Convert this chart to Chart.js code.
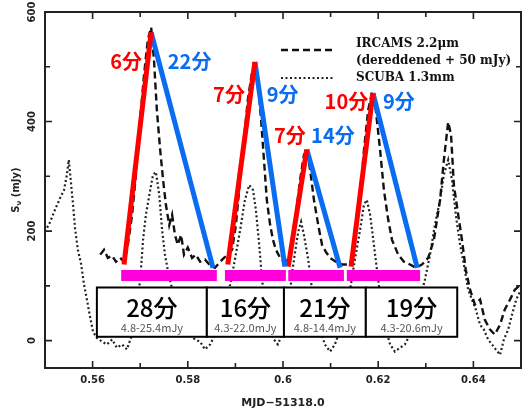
<!DOCTYPE html>
<html><head><meta charset="utf-8">
<script src="https://cdn.jsdelivr.net/npm/chart.js@4/dist/chart.umd.min.js"></script>
<style>html,body{margin:0;padding:0;background:#fff}#wrap{width:522px;height:410px}</style>
</head><body><div id="wrap"><canvas id="c" width="522" height="410"></canvas></div>
<script>
// IRCAMS 2.2um (dereddened + 50 mJy), dashed
const ircamsX = [0.5616,0.5624,0.5632,0.5641,0.5649,0.5658,0.5666,0.5674,0.5683,0.5691,
0.5700,0.5708,0.5716,0.5723,0.5729,0.5735,0.5742,0.5748,0.5754,0.5761,
0.5767,0.5773,0.5779,0.5786,0.5792,0.5800,0.5809,0.5817,0.5826,0.5836,
0.5847,0.5857,0.5868,0.5876,0.5884,0.5893,0.5901,0.5910,0.5918,0.5926,
0.5935,0.5941,0.5947,0.5954,0.5960,0.5966,0.5973,0.5979,0.5985,0.5994,
0.6002,0.6011,0.6019,0.6027,0.6036,0.6044,0.6050,0.6057,0.6065,0.6074,
0.6082,0.6090,0.6099,0.6111,0.6124,0.6137,0.6145,0.6153,0.6162,0.6170,
0.6179,0.6187,0.6195,0.6204,0.6212,0.6221,0.6229,0.6242,0.6254,0.6267,
0.6279,0.6292,0.6305,0.6317,0.6330,0.6338,0.6347,0.6353,0.6359,0.6368,
0.6376,0.6384,0.6393,0.6403,0.6414,0.6424,0.6435,0.6445,0.6456,0.6466,
0.6477,0.6487,0.6500];
const ircamsY = [157,166,151,155,144,151,144,175,230,303,
403,485,549,572,512,421,348,294,248,211,
230,193,175,193,157,170,151,157,144,148,
137,133,144,151,157,166,211,294,366,439,
490,509,476,403,330,257,211,184,166,151,
144,148,175,230,294,339,348,312,257,211,
175,162,151,144,139,139,148,193,257,348,
421,454,421,348,275,221,184,157,144,139,
133,139,151,184,257,330,399,376,284,230,
184,129,93,66,75,38,20,11,29,57,
75,93,102];
// SCUBA 1.3mm, dotted
const scubaX = [0.5500,0.5511,0.5521,0.5532,0.5540,0.5546,0.5550,0.5555,0.5559,0.5563,
0.5569,0.5576,0.5582,0.5588,0.5595,0.5601,0.5609,0.5620,0.5630,0.5641,
0.5651,0.5662,0.5672,0.5683,0.5691,0.5700,0.5706,0.5712,0.5721,0.5727,
0.5733,0.5740,0.5746,0.5752,0.5758,0.5765,0.5773,0.5784,0.5794,0.5805,
0.5815,0.5826,0.5836,0.5847,0.5857,0.5868,0.5878,0.5889,0.5899,0.5910,
0.5920,0.5929,0.5937,0.5943,0.5950,0.5956,0.5964,0.5973,0.5981,0.5989,
0.5998,0.6006,0.6015,0.6023,0.6032,0.6038,0.6044,0.6053,0.6061,0.6069,
0.6078,0.6088,0.6099,0.6109,0.6120,0.6130,0.6141,0.6151,0.6162,0.6170,
0.6176,0.6183,0.6191,0.6200,0.6208,0.6216,0.6225,0.6235,0.6246,0.6256,
0.6267,0.6277,0.6288,0.6298,0.6309,0.6319,0.6330,0.6338,0.6347,0.6355,
0.6363,0.6372,0.6380,0.6389,0.6397,0.6405,0.6414,0.6422,0.6431,0.6439,
0.6447,0.6456,0.6464,0.6473,0.6481,0.6490,0.6500];
const scubaY = [199,217,239,261,275,303,330,284,248,206,
166,139,102,75,42,16,5,-2,-7,2,
-13,-7,-16,11,57,111,184,230,275,303,
308,266,202,157,129,102,75,47,29,11,
2,-2,-16,-7,11,38,75,102,148,202,
257,284,275,239,175,111,57,20,2,-7,
11,47,93,148,199,217,193,148,93,57,
20,-7,-20,-7,20,57,93,148,202,248,
257,230,175,111,57,20,-7,-20,-13,-7,
11,38,75,111,157,211,257,303,330,294,
230,175,139,93,75,57,29,20,2,-7,
-16,-26,2,20,47,75,93];

// flare rise / decay guide lines
const riseStartX = [0.5666,0.5884,0.6011,0.6143];
const riseStartY = [139,139,135,135];
const peakX = [0.5723,0.5941,0.6050,0.6189];
const peakY = [563,509,349,452];
const decayEndX = [0.5853,0.6004,0.6120,0.6282];
const decayEndY = [133,135,133,133];
const riseLabels = ['6分','7分','7分','10分'];
const decayLabels = ['22分','9分','14分','9分'];

// flare duration bars and boxes
const barStartX = [0.5660,0.5878,0.6011,0.6134];
const barEndX = [0.5861,0.6006,0.6128,0.6288];
const barLevel = 119;
const totalLabels = ['28分','16分','21分','19分'];
const rangeLabels = ['4.8-25.4mJy','4.3-22.0mJy','4.8-14.4mJy','4.3-20.6mJy'];

// axes
const xTickValues = [0.56,0.58,0.60,0.62,0.64];
const xTickLabels = ['0.56','0.58','0.6','0.62','0.64'];
const xMinorValues = [0.57,0.59,0.61,0.63];
const yTickValues = [0,200,400,600];
const yTickLabels = ['0','200','400','600'];
const yMinorValues = [100,300,500];
const xTitle = 'MJD\u221251318.0';
const legendLabels = [['IRCAMS 2.2\u03bcm','(dereddened + 50 mJy)'],['SCUBA 1.3mm']];

// annotation placement (layout, in axis units)
const boxEdgesX = [0.5609,0.5840,0.6002,0.6174,0.6366];
const boxTopY = 97, boxBottomY = 7;
const riseLabelAnchorX = [0.5704,0.5920,0.6048,0.6179];
const decayLabelAnchorX = [0.5758,0.5966,0.6059,0.6210];
const labelAnchorY = [509,450,374,436];

const RED = '#ff0000', BLUE = '#0a6cf0', MAG = '#ff00dc';
const pts = (xs, ys) => xs.map((v,i)=>({x:v,y:ys[i]}));

const datasets = [];
for (let i=0;i<4;i++){
  datasets.push({data:[{x:riseStartX[i],y:riseStartY[i]},{x:peakX[i],y:peakY[i]}],borderColor:RED,borderWidth:5,borderCapStyle:'butt',order:1});
  datasets.push({data:[{x:peakX[i],y:peakY[i]},{x:decayEndX[i],y:decayEndY[i]}],borderColor:BLUE,borderWidth:5,borderCapStyle:'butt',order:1});
  datasets.push({data:[{x:barStartX[i],y:barLevel},{x:barEndX[i],y:barLevel}],borderColor:MAG,borderWidth:11,borderCapStyle:'butt',order:1});
}
datasets.push({label:'IRCAMS',data:pts(ircamsX,ircamsY),borderColor:'#111',borderWidth:2.4,borderDash:[7,4],order:5});
datasets.push({label:'SCUBA',data:pts(scubaX,scubaY),borderColor:'#222',borderWidth:2.2,borderDash:[2,2.5],order:6});

const deco = {
  id:'deco',
  afterDatasetsDraw(chart){
    const {ctx, chartArea:a, scales:{x,y}} = chart;
    ctx.save();
    const bt = y.getPixelForValue(boxTopY), bb = y.getPixelForValue(boxBottomY);
    for (let i=0;i<4;i++){
      const l = x.getPixelForValue(boxEdgesX[i]), r = x.getPixelForValue(boxEdgesX[i+1]);
      ctx.fillStyle='#fff'; ctx.fillRect(l,bt,r-l,bb-bt);
      ctx.strokeStyle='#000'; ctx.lineWidth=2; ctx.strokeRect(l,bt,r-l,bb-bt);
      const cx=(l+r)/2;
      ctx.fillStyle='#000'; ctx.textAlign='center'; ctx.textBaseline='middle';
      ctx.font='500 24px "Noto Sans CJK JP", sans-serif';
      ctx.fillText(totalLabels[i], cx, bt+20);
      ctx.fillStyle='#555'; ctx.font='11px "Noto Sans CJK JP", sans-serif';
      ctx.fillText(rangeLabels[i], cx, bt+40);
    }
    ctx.font='bold 20px "Noto Sans CJK JP", sans-serif'; ctx.textBaseline='middle';
    for (let i=0;i<4;i++){
      const py = y.getPixelForValue(labelAnchorY[i]);
      ctx.fillStyle=RED; ctx.textAlign='right';
      ctx.fillText(riseLabels[i], x.getPixelForValue(riseLabelAnchorX[i]), py);
      ctx.fillStyle=BLUE; ctx.textAlign='left';
      ctx.fillText(decayLabels[i], x.getPixelForValue(decayLabelAnchorX[i]), py);
    }
    const ds = chart.data.datasets;
    const irc = ds[ds.length-2], scu = ds[ds.length-1];
    const lx0=a.left+236, lx1=a.left+288, tx=a.left+311;
    ctx.strokeStyle=irc.borderColor; ctx.lineWidth=irc.borderWidth; ctx.setLineDash(irc.borderDash);
    ctx.beginPath(); ctx.moveTo(lx0,a.top+38); ctx.lineTo(lx1,a.top+38); ctx.stroke();
    ctx.strokeStyle=scu.borderColor; ctx.lineWidth=scu.borderWidth; ctx.setLineDash(scu.borderDash);
    ctx.beginPath(); ctx.moveTo(lx0,a.top+66); ctx.lineTo(lx1,a.top+66); ctx.stroke();
    ctx.setLineDash([]);
    ctx.fillStyle='#111'; ctx.textAlign='left'; ctx.textBaseline='middle';
    ctx.font='bold 12px "DejaVu Serif", serif';
    ctx.fillText(legendLabels[0][0], tx, a.top+32);
    ctx.fillText(legendLabels[0][1], tx, a.top+49);
    ctx.fillText(legendLabels[1][0], tx, a.top+66);
    ctx.restore();
  },
  afterDraw(chart){
    const {ctx, chartArea:a, scales:{x,y}} = chart;
    ctx.save();
    ctx.strokeStyle='#222'; ctx.lineWidth=2;
    ctx.strokeRect(a.left,a.top,a.right-a.left,a.bottom-a.top);
    ctx.lineWidth=1.6;
    const tick=(vals,len)=>{
      vals.forEach(v=>{const p=x.getPixelForValue(v);
        ctx.beginPath();ctx.moveTo(p,a.bottom);ctx.lineTo(p,a.bottom-len);ctx.moveTo(p,a.top);ctx.lineTo(p,a.top+len);ctx.stroke();});
    };
    const ytick=(vals,len)=>{
      vals.forEach(v=>{const p=y.getPixelForValue(v);
        ctx.beginPath();ctx.moveTo(a.left,p);ctx.lineTo(a.left+len,p);ctx.moveTo(a.right,p);ctx.lineTo(a.right-len,p);ctx.stroke();});
    };
    tick(xTickValues,7); tick(xMinorValues,5); ytick(yTickValues,7); ytick(yMinorValues,5);
    ctx.fillStyle='#222'; ctx.font='bold 10px "DejaVu Sans", sans-serif';
    ctx.textAlign='center'; ctx.textBaseline='middle';
    xTickValues.forEach((v,i)=>ctx.fillText(xTickLabels[i], x.getPixelForValue(v), a.bottom+12));
    yTickValues.forEach((v,i)=>{
      ctx.save(); ctx.translate(a.left-13, y.getPixelForValue(v)); ctx.rotate(-Math.PI/2);
      ctx.fillText(yTickLabels[i],0,0); ctx.restore();
    });
    ctx.font='bold 11px "DejaVu Sans", sans-serif';
    ctx.fillText(xTitle, (a.left+a.right)/2, a.bottom+35);
    ctx.save(); ctx.translate(a.left-29, 190); ctx.rotate(-Math.PI/2);
    ctx.font='bold 10px "DejaVu Sans", sans-serif';
    const t1='S', t2='\u03bd', t3=' (mJy)';
    const w1=ctx.measureText(t1).width, w3=ctx.measureText(t3).width;
    ctx.font='bold 7px "DejaVu Sans", sans-serif'; const w2=ctx.measureText(t2).width;
    let sx=-(w1+w2+w3)/2; ctx.textAlign='left';
    ctx.font='bold 10px "DejaVu Sans", sans-serif'; ctx.fillText(t1,sx,0);
    ctx.font='bold 7px "DejaVu Sans", sans-serif'; ctx.fillText(t2,sx+w1,3);
    ctx.font='bold 10px "DejaVu Sans", sans-serif'; ctx.fillText(t3,sx+w1+w2,0);
    ctx.restore();
    ctx.restore();
  }
};

new Chart(document.getElementById('c'), {
  type:'line',
  data:{datasets},
  options:{
    responsive:false, animation:false, devicePixelRatio:1,
    parsing:true,
    elements:{point:{radius:0},line:{tension:0}},
    layout:{padding:{left:45,top:12,right:1,bottom:42}},
    scales:{
      x:{type:'linear',min:0.55,max:0.65,display:false},
      y:{type:'linear',min:-50,max:600,display:false}
    },
    plugins:{legend:{display:false},tooltip:{enabled:false}}
  },
  plugins:[deco]
});
</script></body></html>
